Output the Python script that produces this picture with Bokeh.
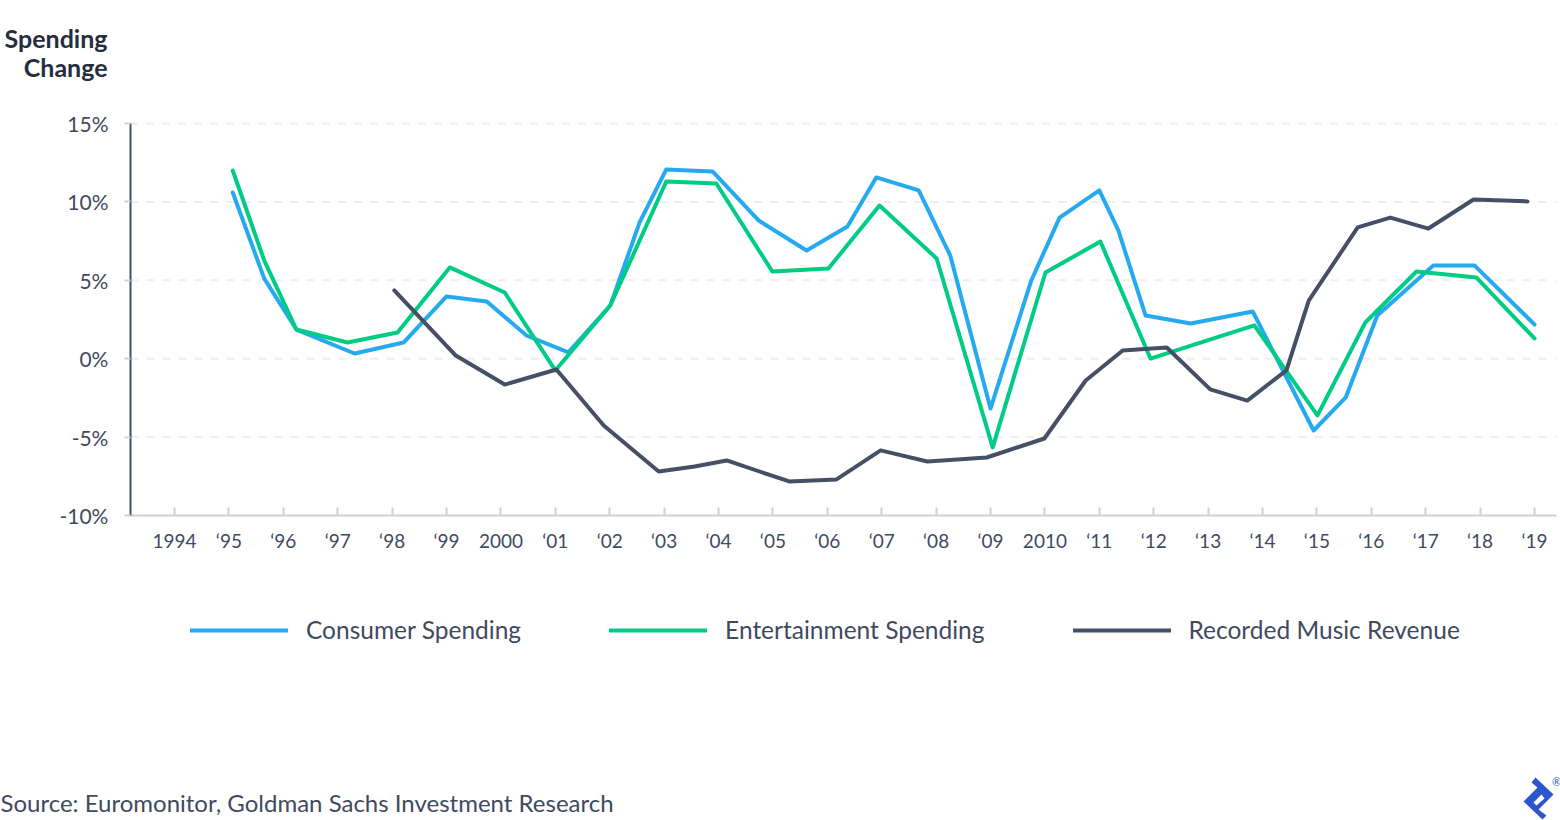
from bokeh.embed import file_html
from bokeh.resources import INLINE
from bokeh.plotting import figure
from bokeh.models import (Range1d, Label, Legend, LegendItem, PolyAnnotation,
                          FixedTicker)

consumer_years = [1995.07,1995.65,1996.24,1997.31,1998.21,1999.00,1999.74,2000.47,2001.24,2002.01,2002.55,2003.04,2003.89,2004.74,2005.62,2006.37,2006.90,2007.68,2008.26,2009.00,2009.75,2010.27,2011.00,2011.35,2011.85,2012.68,2013.82,2014.94,2015.53,2016.11,2017.14,2017.90,2019.00]
consumer_values = [10.6,5.11,1.86,0.33,1.03,3.97,3.65,1.48,0.40,3.39,8.69,12.07,11.94,8.81,6.90,8.43,11.56,10.73,6.58,-3.18,4.99,9.00,10.73,8.18,2.76,2.24,3.01,-4.58,-2.47,2.76,5.94,5.94,2.18]

entertainment_years = [1995.07,1995.65,1996.24,1997.18,1998.10,1999.06,2000.07,2001.00,2002.01,2003.04,2003.96,2004.99,2006.02,2006.96,2008.01,2009.04,2010.01,2011.02,2011.94,2013.85,2015.01,2015.89,2016.83,2017.93,2019.00]
entertainment_values = [12.0,6.26,1.86,1.03,1.67,5.82,4.22,-0.75,3.39,11.30,11.17,5.56,5.75,9.77,6.39,-5.66,5.50,7.47,0.01,2.12,-3.62,2.31,5.56,5.18,1.29]

music_years = [1998.04,1999.17,2000.07,2001.02,2001.89,2002.90,2003.56,2004.15,2005.30,2006.17,2006.98,2007.84,2008.93,2009.99,2010.75,2011.43,2012.24,2013.04,2013.72,2014.44,2014.85,2015.75,2016.35,2017.05,2017.88,2018.87]
music_values = [4.35,0.20,-1.65,-0.69,-4.26,-7.19,-6.88,-6.49,-7.83,-7.70,-5.85,-6.56,-6.30,-5.09,-1.39,0.52,0.71,-1.96,-2.67,-0.75,3.71,8.37,9.00,8.30,10.15,10.03]

x_ticks = list(range(1994, 2020))
x_labels = ["1994","‘95","‘96","‘97","‘98","‘99","2000","‘01","‘02","‘03","‘04","‘05","‘06","‘07","‘08","‘09","2010","‘11","‘12","‘13","‘14","‘15","‘16","‘17","‘18","‘19"]
y_ticks = [-10,-5,0,5,10,15]
y_labels = ["-10%","-5%","0%","5%","10%","15%"]

FONT = "Lato"
TEXT = "#3f4a60"
DARK = "#262d3d"
BLUE = "#25aaf1"
GREEN = "#00cc83"
SLATE = "#455065"
H = 820
AXIS_X0, AXIS_X1 = 1993.19, 2019.40

p = figure(width=1560, height=H, output_backend="svg", toolbar_location=None,
           x_range=Range1d(1990.801, 2019.478), y_range=Range1d(-29.452, 22.844),
           min_border_left=0, min_border_right=0, min_border_top=0, min_border_bottom=0,
           outline_line_color=None, background_fill_color="white", border_fill_color="white")

xa = p.xaxis[0]
xa.fixed_location = -10
xa.bounds = (AXIS_X0, AXIS_X1)
xa.ticker = FixedTicker(ticks=x_ticks)
xa.major_label_overrides = dict(zip(x_ticks, x_labels))
xa.axis_line_color = "#cfd1d6"; xa.axis_line_width = 2
xa.major_tick_line_color = "#cfd1d6"; xa.major_tick_line_width = 2
xa.major_tick_in = 8; xa.major_tick_out = 0; xa.minor_tick_line_color = None
xa.major_label_text_font = FONT; xa.major_label_text_font_size = "19px"
xa.major_label_text_color = TEXT; xa.major_label_standoff = 14

ya = p.yaxis[0]
ya.fixed_location = AXIS_X0
ya.ticker = FixedTicker(ticks=y_ticks)
ya.bounds = (-10, 15)
ya.major_label_overrides = dict(zip(y_ticks, y_labels))
ya.axis_line_color = SLATE; ya.axis_line_width = 2
ya.major_tick_line_color = "#cfd1d6"; ya.major_tick_line_width = 2
ya.major_tick_in = 0; ya.major_tick_out = 6; ya.minor_tick_line_color = None
ya.major_label_text_font = FONT; ya.major_label_text_font_size = "21px"
ya.major_label_text_color = TEXT; ya.major_label_standoff = 16

p.xgrid.visible = False
p.ygrid.visible = False
p.segment(x0=[AXIS_X0]*5, x1=[AXIS_X1]*5, y0=y_ticks[1:], y1=y_ticks[1:],
          line_color="#eeeeee", line_width=2, line_dash="8 8")

r1 = p.line(consumer_years, consumer_values, line_color=BLUE, line_width=4, line_join="round", line_cap="round")
r2 = p.line(entertainment_years, entertainment_values, line_color=GREEN, line_width=4, line_join="round", line_cap="round")
r3 = p.line(music_years, music_values, line_color=SLATE, line_width=4, line_join="round", line_cap="round")

legend = Legend(items=[LegendItem(label="Consumer Spending", renderers=[r1]),
                       LegendItem(label="Entertainment Spending", renderers=[r2]),
                       LegendItem(label="Recorded Music Revenue", renderers=[r3])],
                orientation="horizontal", location=(190, 176), border_line_color=None,
                background_fill_alpha=0, glyph_width=98, glyph_height=20, label_standoff=18,
                spacing=88, padding=0, margin=0, label_text_font=FONT,
                label_text_font_size="24.5px", label_text_color=TEXT)
p.add_layout(legend, "center")

def sy(py):
    return H - py

for txt, yy in (("Spending", 37), ("Change", 66)):
    p.add_layout(Label(x=107, y=sy(yy), x_units="screen", y_units="screen", text=txt,
                       text_font=FONT, text_font_style="bold", text_font_size="25px",
                       text_color=DARK, text_align="right", text_baseline="middle"))
p.add_layout(Label(x=0, y=sy(802), x_units="screen", y_units="screen",
                   text="Source: Euromonitor, Goldman Sachs Investment Research",
                   text_font=FONT, text_font_size="24px", text_color=TEXT,
                   text_align="left", text_baseline="middle"))

# logo
LOGO_X = [1531,1535,1553,1538,1546,1542,1523,1537]
LOGO_Y = [782,777,794,809,815,819,801,787]
HOLE_X = [1533,1541,1544,1536]
HOLE_Y = [802,794,798,805]
p.add_layout(PolyAnnotation(xs=LOGO_X, ys=[sy(v) for v in LOGO_Y], xs_units="screen", ys_units="screen",
                            fill_color="#2b56cc", fill_alpha=1, line_color=None))
p.add_layout(PolyAnnotation(xs=HOLE_X, ys=[sy(v) for v in HOLE_Y], xs_units="screen", ys_units="screen",
                            fill_color="white", fill_alpha=1, line_color=None))
p.add_layout(Label(x=1556, y=sy(781), x_units="screen", y_units="screen", text="®",
                   text_font=FONT, text_font_size="11px", text_color="#2b56cc",
                   text_align="center", text_baseline="middle"))

html = file_html(p, INLINE).replace("<body>", '<body style="margin:0;overflow:hidden">')
open("out.html", "w").write(html)
